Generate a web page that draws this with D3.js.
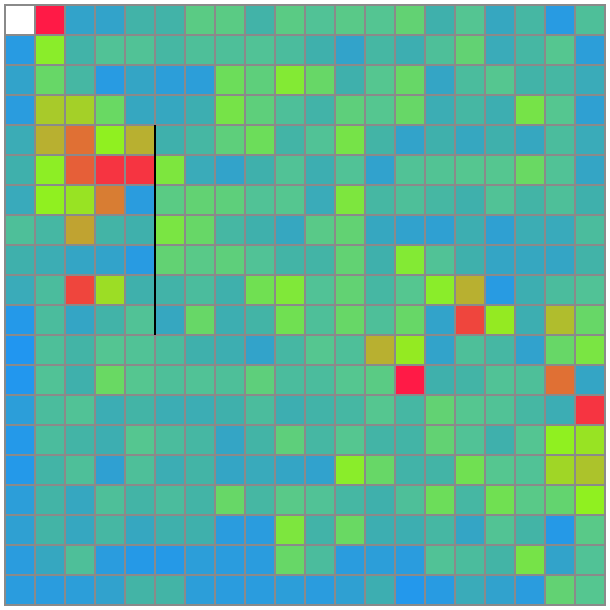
<!DOCTYPE html>
<html>
<head>
<meta charset="utf-8">
<script src="https://cdn.jsdelivr.net/npm/d3@7"></script>
<style>
  body { margin: 0; background: #fff; }
</style>
</head>
<body>
<script>
// 20 x 20 grid of values, 0 = blue ... 1 = red, null = empty cell
var rows = d3.range(20);
var cols = d3.range(20);

var row0  = [null,1.0,0.18,0.18,0.32,0.32,0.48,0.48,0.32,0.48, 0.42,0.47,0.44,0.52,0.30,0.44,0.22,0.35,0.08,0.40];
var row1  = [0.08,0.68,0.32,0.42,0.42,0.35,0.40,0.40,0.42,0.38, 0.30,0.18,0.35,0.28,0.40,0.52,0.25,0.35,0.45,0.12];
var row2  = [0.18,0.55,0.35,0.08,0.20,0.12,0.12,0.58,0.50,0.66, 0.55,0.30,0.45,0.55,0.20,0.38,0.45,0.32,0.35,0.25];
var row3  = [0.10,0.76,0.75,0.56,0.22,0.22,0.28,0.62,0.50,0.40, 0.32,0.50,0.45,0.55,0.27,0.35,0.28,0.62,0.45,0.15];
var row4  = [0.26,0.80,0.90,0.70,0.80,0.30,0.35,0.50,0.58,0.33, 0.42,0.62,0.33,0.18,0.30,0.22,0.30,0.22,0.38,0.25];
var row5  = [0.30,0.69,0.92,0.97,0.97,0.64,0.25,0.18,0.30,0.42, 0.28,0.42,0.17,0.42,0.43,0.45,0.45,0.56,0.42,0.20];
var row6  = [0.24,0.70,0.72,0.88,0.10,0.48,0.52,0.50,0.42,0.45, 0.25,0.64,0.35,0.40,0.35,0.30,0.42,0.33,0.40,0.30];
var row7  = [0.40,0.35,0.82,0.33,0.30,0.63,0.55,0.35,0.30,0.22, 0.47,0.52,0.22,0.17,0.15,0.28,0.15,0.27,0.24,0.38];
var row8  = [0.30,0.27,0.20,0.18,0.08,0.52,0.47,0.50,0.42,0.33, 0.33,0.52,0.30,0.66,0.42,0.30,0.20,0.22,0.20,0.32];
var row9  = [0.25,0.38,0.95,0.73,0.30,0.32,0.38,0.30,0.60,0.65, 0.42,0.52,0.35,0.45,0.68,0.80,0.08,0.28,0.38,0.42];
var row10 = [0.05,0.38,0.20,0.32,0.42,0.22,0.55,0.28,0.33,0.60, 0.40,0.55,0.40,0.55,0.18,0.95,0.71,0.28,0.78,0.55];
var row11 = [0.02,0.40,0.33,0.44,0.42,0.38,0.30,0.28,0.18,0.35, 0.45,0.40,0.80,0.71,0.18,0.40,0.35,0.17,0.55,0.63];
var row12 = [0.03,0.42,0.30,0.56,0.45,0.40,0.42,0.40,0.50,0.38, 0.38,0.45,0.48,1.00,0.30,0.33,0.42,0.40,0.90,0.20];
var row13 = [0.12,0.38,0.42,0.27,0.33,0.27,0.27,0.30,0.38,0.28, 0.32,0.35,0.45,0.35,0.52,0.45,0.42,0.35,0.27,0.97];
var row14 = [0.05,0.38,0.33,0.28,0.45,0.38,0.35,0.20,0.33,0.50, 0.35,0.45,0.33,0.33,0.52,0.42,0.30,0.44,0.70,0.72];
var row15 = [0.05,0.33,0.40,0.15,0.40,0.27,0.33,0.20,0.24,0.20, 0.17,0.68,0.55,0.32,0.33,0.60,0.45,0.42,0.74,0.77];
var row16 = [0.12,0.33,0.22,0.40,0.33,0.38,0.33,0.55,0.35,0.47, 0.42,0.35,0.30,0.40,0.58,0.35,0.60,0.47,0.53,0.70];
var row17 = [0.15,0.33,0.22,0.35,0.22,0.30,0.30,0.10,0.10,0.64, 0.32,0.56,0.28,0.28,0.35,0.20,0.43,0.33,0.06,0.47];
var row18 = [0.10,0.22,0.40,0.10,0.06,0.06,0.12,0.10,0.10,0.55, 0.38,0.10,0.12,0.10,0.42,0.38,0.33,0.62,0.18,0.42];
var row19 = [0.10,0.10,0.12,0.17,0.33,0.33,0.12,0.10,0.10,0.12, 0.10,0.15,0.28,0.04,0.08,0.25,0.17,0.10,0.52,0.45];

var grid = [row0,row1,row2,row3,row4,row5,row6,row7,row8,row9,
            row10,row11,row12,row13,row14,row15,row16,row17,row18,row19];

// divider: vertical line on the left edge of column 5, rows 4..10
var dividerCol = 5;
var dividerRows = [4, 10];

var colorStops = [0, 0.15, 0.3, 0.45, 0.6, 0.7, 0.8, 0.9, 1.0];
var colorRange = ["#1f95f5","#2fa0d2","#3fb0ac","#55c690","#70e052","#90f020","#b8b030","#e07034","#ff1a46"];

var width = 610, height = 610;
var margin = 5;

var svg = d3.select("body").append("svg")
            .attr("width", width)
            .attr("height", height);

var x = d3.scaleBand().domain(cols).range([margin, width - margin]);
var y = d3.scaleBand().domain(rows).range([margin, height - margin]);

var color = d3.scaleLinear()
              .domain(colorStops)
              .range(colorRange)
              .interpolate(d3.interpolateRgb);

var cells = [];
grid.forEach(function (r, i) {
  r.forEach(function (v, j) {
    cells.push({row: i, col: j, value: v});
  });
});

svg.selectAll("rect.cell")
   .data(cells)
   .enter()
   .append("rect")
   .attr("class", "cell")
   .attr("x", function (d) { return x(d.col); })
   .attr("y", function (d) { return y(d.row); })
   .attr("width", x.bandwidth())
   .attr("height", y.bandwidth())
   .attr("fill", function (d) { return d.value == null ? "#ffffff" : color(d.value); })
   .attr("stroke", "#8a8a8a")
   .attr("stroke-width", 2);

svg.append("line")
   .attr("x1", x(dividerCol))
   .attr("x2", x(dividerCol))
   .attr("y1", y(dividerRows[0]))
   .attr("y2", y(dividerRows[1]) + y.bandwidth())
   .attr("stroke", "#000")
   .attr("stroke-width", 2);
</script>
</body>
</html>
